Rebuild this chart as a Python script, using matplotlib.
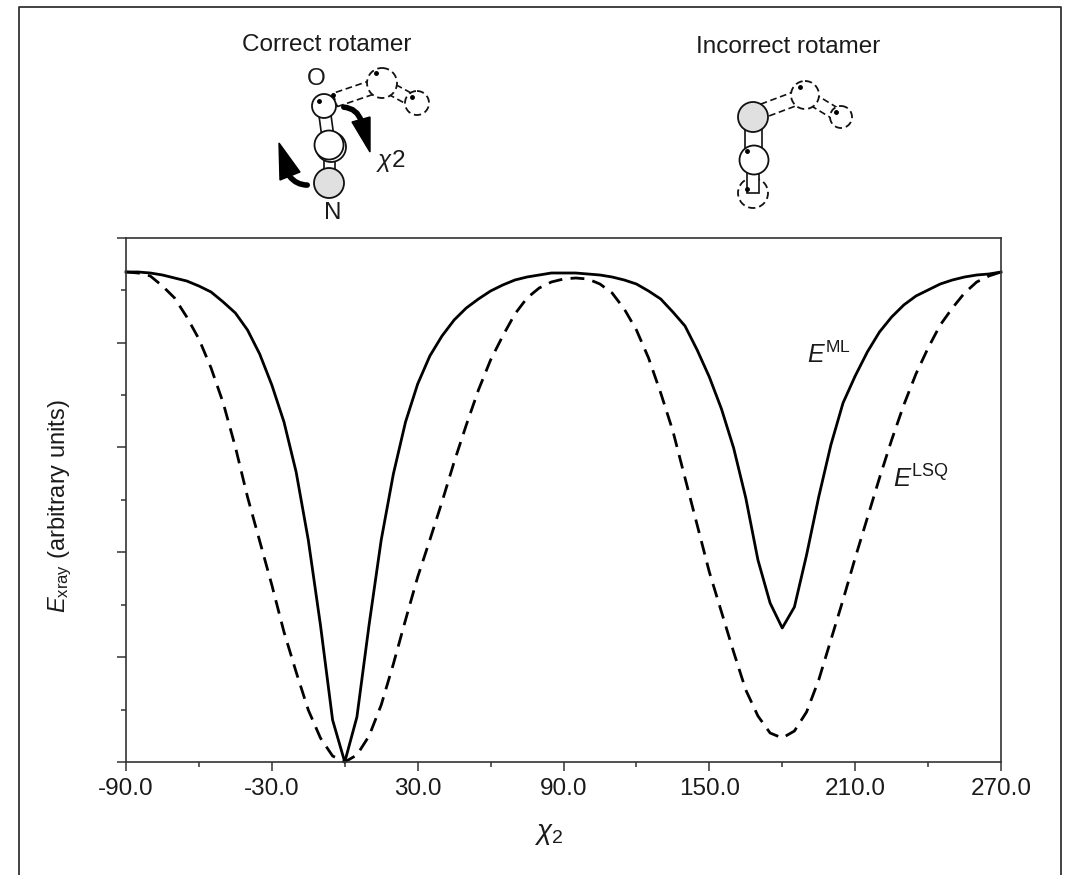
#!/usr/bin/env python3

import matplotlib
matplotlib.use("Agg")
import matplotlib.pyplot as plt
from matplotlib.patches import Circle, Polygon, FancyArrowPatch

plt.rcParams['font.family'] = ['Liberation Sans', 'DejaVu Sans']
plt.rcParams['mathtext.fontset'] = 'custom'
plt.rcParams['mathtext.rm'] = 'Liberation Sans'
plt.rcParams['mathtext.it'] = 'Liberation Sans:italic'

chi2 = list(range(-90, 275, 5))
e_ml = [490, 490, 489, 487, 484, 481, 476, 470, 460, 449, 432, 408, 377, 340, 290, 222, 137, 42,
        0,
        45, 137, 222, 288, 340, 378, 406, 426, 442, 454, 463, 471, 477, 482, 485, 487, 489, 489,
        489, 488, 487, 485, 482, 478, 471, 463, 450, 436, 412, 385, 353, 314, 264, 202, 159, 134,
        155, 207, 265, 317, 359, 386, 410, 430, 445, 457, 466, 472, 478, 482, 485, 487, 488, 490]
e_lsq = [490, 489, 486, 476, 464, 445, 423, 394, 359, 315, 265, 221, 177, 130, 90, 52, 24, 6,
         0,
         7, 26, 57, 98, 142, 185, 222, 260, 300, 337, 372, 402, 426, 448, 464, 474, 480, 483,
         484, 483, 478, 469, 453, 432, 404, 369, 331, 284, 237, 190, 150, 110, 72, 46, 29, 24,
         31, 50, 82, 122, 162, 204, 244, 284, 322, 357, 388, 414, 437, 454, 469, 480, 486, 490]

xticks = [-90, -30, 30, 90, 150, 210, 270]
xtick_labels = ['-90.0', '-30.0', '30.0', '90.0', '150.0', '210.0', '270.0']
xticks_minor = [-60, 0, 60, 120, 180, 240]
yticks = [0, 105, 210, 315, 419, 524]
yticks_minor = [52, 157, 262, 367, 472]

ink = '#1a1a1a'
W, H = 1068, 875
fig = plt.figure(figsize=(W / 100, H / 100), dpi=100, facecolor='white')

ax = fig.add_axes([126 / W, (H - 762) / H, 875 / W, 524 / H])
ax.plot(chi2, e_ml, color='black', lw=2.0, clip_on=False)
ax.plot(chi2, e_lsq, color='black', lw=2.0, linestyle=(0, (5, 3)), clip_on=False)
ax.set_xlim(-90, 270)
ax.set_ylim(0, 524)
ax.set_xticks(xticks)
ax.set_xticklabels(xtick_labels)
ax.set_xticks(xticks_minor, minor=True)
ax.set_yticks(yticks)
ax.set_yticklabels([])
ax.set_yticks(yticks_minor, minor=True)
ax.tick_params(which='major', length=6.5, width=1.1, color='#333333',
               labelsize=17.5, labelcolor=ink, pad=5)
ax.tick_params(which='minor', length=3.5, width=1.1, color='#333333')
for s in ax.spines.values():
    s.set_linewidth(1.2)
    s.set_color('#333333')
    s.set_clip_on(False)

# overlay in image pixels for the frame, labels and the rotamer sketches
ov = fig.add_axes([0, 0, 1, 1], facecolor='none')
ov.set_xlim(0, W)
ov.set_ylim(H, 0)
ov.axis('off')

ov.plot([19, 19, 1061, 1061], [H, 6.5, 6.5, H], color='#333333', lw=1.3)


def label(x, y, s, size=17.5):
    ov.text(x, y, s, fontsize=size, color=ink, ha='center', va='center')


label(327, 45, 'Correct rotamer')
label(788, 47, 'Incorrect rotamer')
label(316, 79, 'O')
label(333, 213, 'N')
label(391, 161, r'$\mathit{\chi}$2')
ov.text(807, 363, r'$\mathit{E}^{\mathrm{ML}}$', fontsize=18, color=ink, ha='left', va='baseline')
ov.text(893, 488, r'$\mathit{E}^{\mathrm{LSQ}}$', fontsize=18.5, color=ink, ha='left', va='baseline')
label(549, 834, r'$\mathit{\chi}_{2}$', 20)
ov.text(60, 506, r'$\mathit{E}_{\mathrm{xray}}$ (arbitrary units)', fontsize=17,
        color=ink, rotation=90, ha='center', va='center')


def atom(x, y, r, fill='white', dashed=False, z=3):
    ls = (0, (4, 2.2)) if dashed else '-'
    ov.add_patch(Circle((x, y), r, facecolor=fill, edgecolor='#111111',
                        lw=1.3, linestyle=ls, zorder=z))


def bond(x1, y1, x2, y2, w=5.5, dashed=False, z=2):
    dx, dy = x2 - x1, y2 - y1
    n = (dx * dx + dy * dy) ** 0.5
    px, py = -dy / n * w, dx / n * w
    ls = (0, (4, 2.2)) if dashed else '-'
    ov.add_patch(Polygon([(x1 + px, y1 + py), (x2 + px, y2 + py),
                          (x2 - px, y2 - py), (x1 - px, y1 - py)],
                         facecolor='white', edgecolor='#111111', lw=1.2,
                         linestyle=ls, zorder=z))


# correct rotamer
bond(335, 100, 382, 84, 7, dashed=True, z=1)
bond(382, 84, 417, 103, 6, dashed=True, z=1)
atom(382, 83, 15, dashed=True, z=2)
atom(417, 103, 12, dashed=True, z=2)
bond(324, 108, 329, 145, 6)
bond(329, 145, 329, 183, 5.5)
atom(331, 147, 15, z=3)
atom(329, 145, 14.5, z=3)
atom(324, 106, 12, z=4)
atom(329, 183, 15, fill='#e0e0e0', z=4)
ov.plot([319, 333], [101, 95], 'o', ms=2.5, color='black', zorder=5)
ov.plot([376, 412], [73, 97], 'o', ms=2.5, color='black', zorder=5)

ov.add_patch(FancyArrowPatch((341, 107), (362, 124), connectionstyle='arc3,rad=-0.4',
                             arrowstyle='-', lw=4, color='black', zorder=6))
ov.add_patch(Polygon([(352, 122), (370, 117), (370, 152)], color='black', zorder=6))
ov.add_patch(FancyArrowPatch((310, 185), (288, 174), connectionstyle='arc3,rad=-0.3',
                             arrowstyle='-', lw=4, color='black', zorder=6))
ov.add_patch(Polygon([(279, 143), (280, 180), (300, 172)], color='black', zorder=6))

# incorrect rotamer
bond(757, 113, 805, 95, 7, dashed=True, z=1)
bond(805, 95, 841, 117, 6, dashed=True, z=1)
atom(805, 95, 14, dashed=True, z=2)
atom(841, 117, 11, dashed=True, z=2)
atom(753, 193, 15, dashed=True, z=2)
bond(753, 159, 753, 193, 6)
bond(753, 117, 753, 159, 8.5)
atom(754, 160, 14.5, z=3)
atom(753, 117, 15, fill='#e0e0e0', z=4)
ov.plot([747, 747, 800, 836], [151, 189, 87, 112], 'o', ms=2.5, color='black', zorder=5)

fig.savefig('out.png', dpi=100, facecolor='white')
